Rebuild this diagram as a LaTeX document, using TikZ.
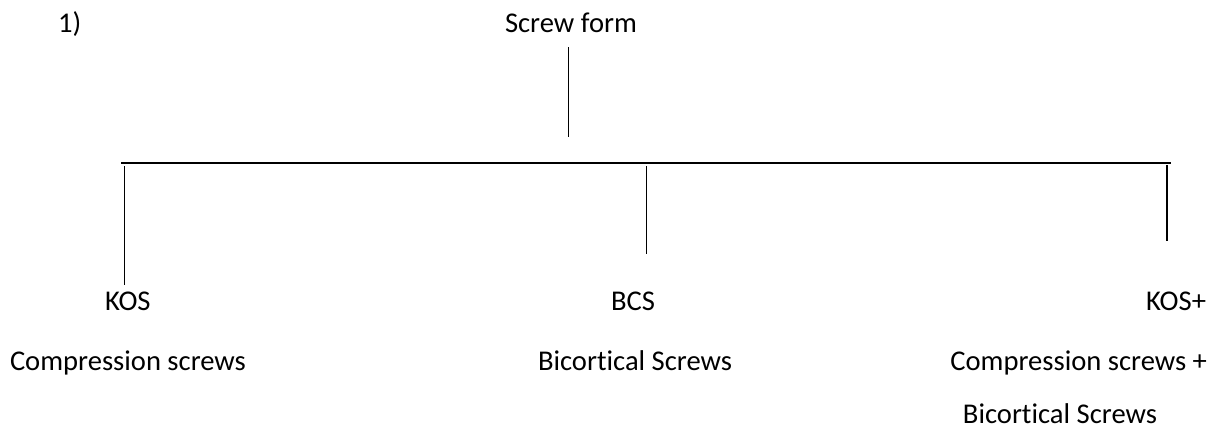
\documentclass[tikz,border=0pt]{standalone}
\usepackage{fontspec}
\setmainfont{Carlito}[Ligatures=NoCommon]
\begin{document}
\begin{tikzpicture}[x=1pt,y=-1pt,
  lbl/.style={inner sep=0pt,outer sep=0pt,font=\fontsize{28.6}{34}\selectfont},
  branch/.style={line width=0.9pt,black}]
\useasboundingbox (0,0) rectangle (1210,431);
% labels
\node[lbl,anchor=base west] (num)  at (58,32)  {1)};
\node[lbl,anchor=base west] (root) at (505,32) {Screw form};
\node[lbl,anchor=base west] (kos)  at (105,310) {KOS};
\node[lbl,anchor=base west] (bcs)  at (611,310) {BCS};
\node[lbl,anchor=base east] (both) at (1206,310) {KOS+};
\node[lbl,anchor=base west] (kosd) at (10,370) {Compression screws};
\node[lbl,anchor=base west] (bcsd) at (538,370) {Bicortical Screws};
\node[lbl,anchor=base east] (bothd) at (1207,370) {Compression screws +};
\node[lbl,anchor=base east] (bothd2) at (1157,423) {Bicortical Screws};
% line end points
\coordinate (rootA) at (568,47);
\coordinate (rootB) at (568,137);
\coordinate (barL) at (121,163);
\coordinate (barR) at (1171,163);
\coordinate (kosA) at (124,166);
\coordinate (kosB) at (124,285);
\coordinate (bcsA) at (646,166);
\coordinate (bcsB) at (646,254);
\coordinate (bothA) at (1167,165);
\coordinate (bothB) at (1167,241);
% tree lines
\draw[branch] (rootA) -- (rootB);
\draw[branch,line width=1.3pt] (barL) -- (barR);
\draw[branch] (kosA) -- (kosB);
\draw[branch] (bcsA) -- (bcsB);
\draw[branch,line width=1.1pt] (bothA) -- (bothB);
\end{tikzpicture}
\end{document}
